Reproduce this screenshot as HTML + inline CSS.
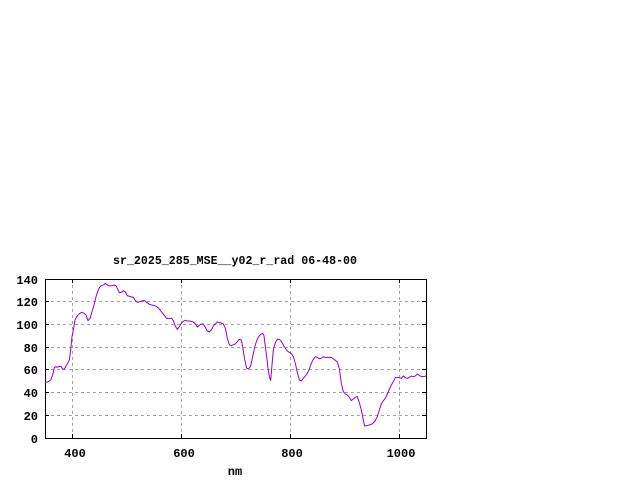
<!DOCTYPE html>
<html><head><meta charset="utf-8"><style>
html,body{margin:0;padding:0;background:#fff;}
svg{display:block;}
text{font-family:"Liberation Mono",monospace;font-size:12px;font-weight:bold;fill:#000;}
</style></head><body>
<svg width="640" height="480" viewBox="0 0 640 480">
<rect width="640" height="480" fill="#fff"/>
<g stroke="#a0a0a0" stroke-width="1" stroke-dasharray="3,3">
<line x1="72.5" y1="279" x2="72.5" y2="438"/>
<line x1="181.5" y1="279" x2="181.5" y2="438"/>
<line x1="290.5" y1="279" x2="290.5" y2="438"/>
<line x1="399.5" y1="279" x2="399.5" y2="438"/>
<line x1="45" y1="415.5" x2="426" y2="415.5"/>
<line x1="45" y1="392.5" x2="426" y2="392.5"/>
<line x1="45" y1="369.5" x2="426" y2="369.5"/>
<line x1="45" y1="347.5" x2="426" y2="347.5"/>
<line x1="45" y1="324.5" x2="426" y2="324.5"/>
<line x1="45" y1="301.5" x2="426" y2="301.5"/>
</g>
<g stroke="#000" stroke-width="1">
<line x1="72.5" y1="438" x2="72.5" y2="434"/><line x1="72.5" y1="279" x2="72.5" y2="283"/>
<line x1="181.5" y1="438" x2="181.5" y2="434"/><line x1="181.5" y1="279" x2="181.5" y2="283"/>
<line x1="290.5" y1="438" x2="290.5" y2="434"/><line x1="290.5" y1="279" x2="290.5" y2="283"/>
<line x1="399.5" y1="438" x2="399.5" y2="434"/><line x1="399.5" y1="279" x2="399.5" y2="283"/>
<line x1="45" y1="415.5" x2="49" y2="415.5"/><line x1="426" y1="415.5" x2="422" y2="415.5"/>
<line x1="45" y1="392.5" x2="49" y2="392.5"/><line x1="426" y1="392.5" x2="422" y2="392.5"/>
<line x1="45" y1="369.5" x2="49" y2="369.5"/><line x1="426" y1="369.5" x2="422" y2="369.5"/>
<line x1="45" y1="347.5" x2="49" y2="347.5"/><line x1="426" y1="347.5" x2="422" y2="347.5"/>
<line x1="45" y1="324.5" x2="49" y2="324.5"/><line x1="426" y1="324.5" x2="422" y2="324.5"/>
<line x1="45" y1="301.5" x2="49" y2="301.5"/><line x1="426" y1="301.5" x2="422" y2="301.5"/>
</g>
<rect x="45.5" y="279.5" width="381" height="159" fill="none" stroke="#000" stroke-width="1"/>
<g transform="translate(0,250) scale(0.33333)">
<polyline fill="none" stroke="#9400d3" stroke-width="3" points="135,398 145,395 152,390 158,375 163,353 167,350 172,352 178,349 184,350 188,358 193,357 198,348 203,340 208,330 212,300 216,260 220,240 225,210 230,200 237,192 245,187 252,190 258,195 264,212 270,205 276,185 282,165 288,140 294,122 300,110 306,106 312,104 316,100 322,105 330,108 336,107 342,105 348,107 352,115 358,128 364,127 370,122 376,126 382,137 392,140 400,142 406,152 412,157 420,155 428,152 434,152 440,157 448,163 455,165 462,166 470,170 476,175 484,185 492,195 500,205 508,205 515,205 520,212 526,228 532,238 538,230 544,220 550,214 556,211 562,213 568,213 574,214 580,216 586,222 592,231 598,226 604,222 610,222 616,232 622,243 628,246 634,240 640,228 646,222 652,216 658,218 664,219 670,222 676,235 682,265 688,284 694,287 700,284 706,282 712,275 718,268 724,270 728,290 734,328 740,355 746,357 752,348 758,320 764,292 770,272 776,260 782,253 788,250 792,257 796,290 800,320 804,355 808,380 812,392 816,345 820,300 826,278 832,268 838,268 844,274 850,285 856,295 862,303 868,307 874,311 880,320 886,340 892,368 898,390 904,393 910,385 916,378 922,370 928,357 934,340 940,328 946,320 952,322 958,326 964,325 970,320 976,322 982,322 988,322 994,322 1000,327 1006,331 1012,336 1018,355 1024,400 1030,425 1036,432 1042,435 1048,442 1054,452 1060,447 1066,442 1072,440 1078,458 1084,480 1090,510 1094,528 1100,527 1108,525 1116,522 1124,515 1132,500 1138,480 1144,462 1150,452 1156,445 1162,432 1168,418 1174,405 1180,395 1186,382 1192,382 1198,383 1204,385 1210,378 1216,383 1222,385 1228,382 1234,378 1240,380 1246,378 1252,372 1258,376 1264,380 1270,380 1279,378"/>
</g>
<g text-anchor="end">
<text x="38" y="443">0</text>
<text x="38" y="420">20</text>
<text x="38" y="397">40</text>
<text x="38" y="374">60</text>
<text x="38" y="352">80</text>
<text x="38" y="329">100</text>
<text x="38" y="306">120</text>
<text x="38" y="284">140</text>
</g>
<g text-anchor="middle">
<text x="75" y="457">400</text>
<text x="184" y="457">600</text>
<text x="292" y="457">800</text>
<text x="401" y="457">1000</text>
<text x="235" y="475">nm</text>
</g>
<text x="113" y="264" textLength="244" lengthAdjust="spacingAndGlyphs">sr_2025_285_MSE__y02_r_rad 06-48-00</text>
</svg>
</body></html>
